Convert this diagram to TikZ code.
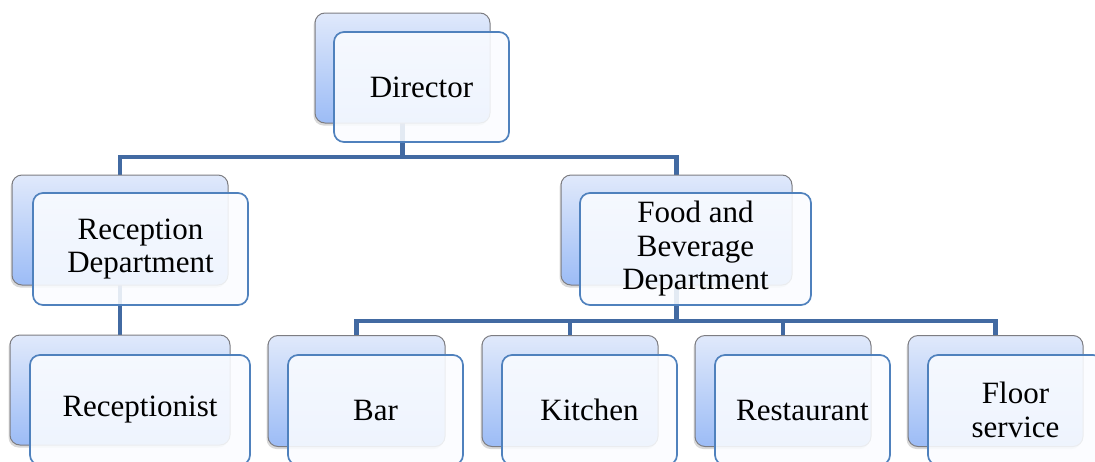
\documentclass[tikz,border=0pt]{standalone}
\usepackage{fontspec}
\setmainfont{Liberation Serif}
\usetikzlibrary{shadows,backgrounds}
\definecolor{connblue}{RGB}{66,106,162}
\definecolor{frontline}{RGB}{79,129,189}
\definecolor{backline}{RGB}{125,125,130}
\definecolor{backtop}{RGB}{224,233,251}
\definecolor{backbottom}{RGB}{156,188,246}
\definecolor{frontfill}{RGB}{250,252,255}
\tikzset{
  conn/.style={draw=connblue, line width=4.8pt, line join=miter},
  backbox/.style={rectangle, rounded corners=10pt, draw=backline, line width=1pt,
    top color=backtop, bottom color=backbottom, inner sep=0pt,
    drop shadow={shadow xshift=-1.5pt, shadow yshift=-2.5pt, opacity=0.3}},
  frontbox/.style={rectangle, rounded corners=10pt, draw=frontline, line width=1.7pt,
    fill=frontfill, fill opacity=0.88, text opacity=1, inner sep=0pt, align=center,
    font=\fontsize{31}{33.5}\selectfont},
}
\begin{document}
\begin{tikzpicture}[x=1pt, y=-1pt]
\useasboundingbox (0,0) rectangle (1095,461);

% back (shaded) cards
\node[backbox, minimum width=175pt, minimum height=110pt] (dirB) at (402.5,68) {};
\node[backbox, minimum width=216pt, minimum height=110pt] (recB) at (120,230) {};
\node[backbox, minimum width=231pt, minimum height=110pt] (fbB) at (676.5,230) {};
\node[backbox, minimum width=220pt, minimum height=110pt] (rcpB) at (120,390) {};
\node[backbox, minimum width=177pt, minimum height=111pt] (barB) at (356.5,391) {};
\node[backbox, minimum width=176pt, minimum height=111pt] (kitB) at (570,391) {};
\node[backbox, minimum width=176pt, minimum height=111pt] (resB) at (783,391) {};
\node[backbox, minimum width=175pt, minimum height=111pt] (flrB) at (995.5,391) {};

% front (labelled) cards
\node[frontbox, minimum width=175pt, minimum height=110pt] (dir) at (421.5,87) {Director};
\node[frontbox, minimum width=215pt, minimum height=112pt] (rec) at (140.5,249) {Reception\\Department};
\node[frontbox, minimum width=231pt, minimum height=112pt] (fb) at (695.5,249) {Food and\\Beverage\\Department};
\node[frontbox, minimum width=220pt, minimum height=110pt] (rcp) at (140,410) {Receptionist};
\node[frontbox, minimum width=175pt, minimum height=110pt] (bar) at (375.5,410) {Bar};
\node[frontbox, minimum width=175pt, minimum height=110pt] (kit) at (589.5,410) {Kitchen};
\node[frontbox, minimum width=175pt, minimum height=110pt] (res) at (802.5,410) {Restaurant};
\node[frontbox, minimum width=175pt, minimum height=110pt] (flr) at (1015.5,410) {Floor\\service};

% bus levels
\coordinate (bus1) at (0,157);
\coordinate (bus2) at (0,321);

% connectors, drawn behind the cards
\begin{scope}[on background layer]
  \draw[conn] (dirB.center) -- (dirB.center |- bus1);
  \draw[conn] (recB.center) |- (dirB.center |- bus1) -| (fbB.center);
  \draw[conn] (recB.center) -- (rcpB.center);
  \draw[conn] (fbB.center) -- (fbB.center |- bus2);
  \draw[conn] (barB.center) |- (fbB.center |- bus2) -| (flrB.center);
  \draw[conn] (kitB.center) -- (kitB.center |- bus2);
  \draw[conn] (resB.center) -- (resB.center |- bus2);
\end{scope}
\end{tikzpicture}
\end{document}
